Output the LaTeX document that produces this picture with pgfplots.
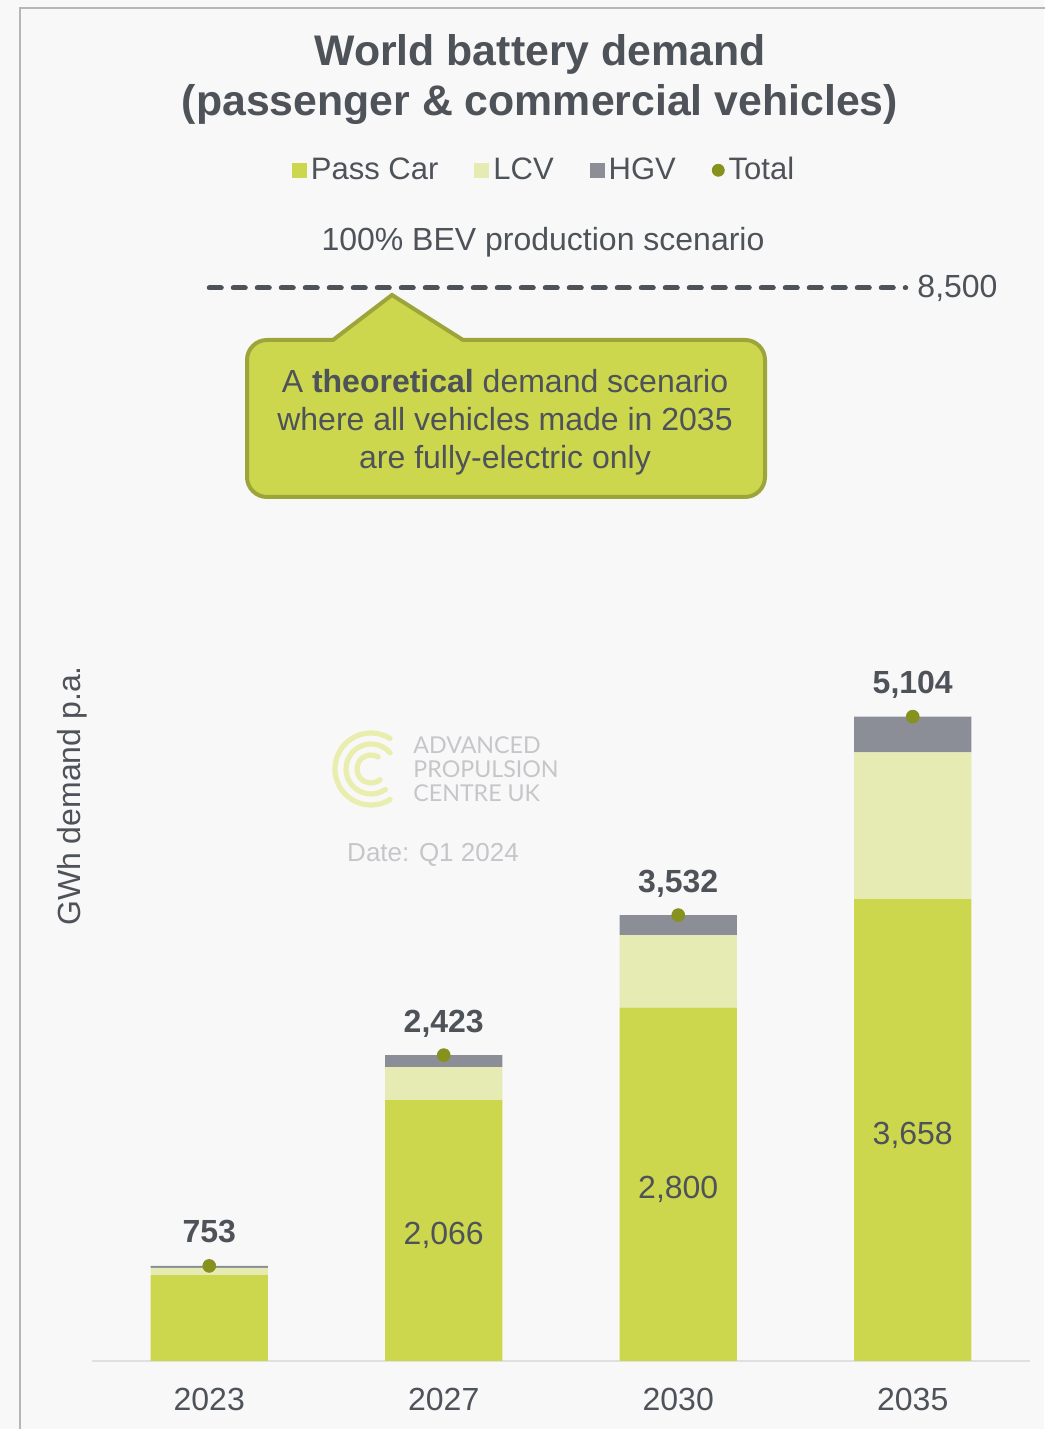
\documentclass[border=0pt]{standalone}
\usepackage{fontspec}
\setmainfont{Liberation Sans}
\newfontfamily\logofont{Lato}
\usepackage{pgfplots}
\pgfplotsset{compat=1.18}

\definecolor{passc}{HTML}{CDD74D}
\definecolor{lcvc}{HTML}{E6EBB4}
\definecolor{hgvc}{HTML}{8B8E96}
\definecolor{totc}{HTML}{86911E}
\definecolor{txt}{HTML}{4E5259}
\definecolor{bg}{HTML}{F8F8F8}
\definecolor{framec}{HTML}{B6B6BA}
\definecolor{callb}{HTML}{9DA53A}
\definecolor{wm}{HTML}{C6C6CA}
\definecolor{logoc}{HTML}{E9EEAE}
\definecolor{axl}{HTML}{E0E0E0}

\newcommand{\fs}[1]{\fontsize{#1}{1.2\dimexpr#1pt\relax}\selectfont}

\begin{document}
\begin{tikzpicture}
\path[use as bounding box] (0,0) rectangle (522pt,714.5pt);
\fill[bg] (0,0) rectangle (522pt,714.5pt);
% pixel coordinates of the reference, y downwards
\begin{scope}[x=0.5pt,y=-0.5pt,shift={(0pt,714.5pt)}]
  \draw[framec, line width=1.1pt] (20,1440) -- (20,8) -- (1050,8);
  \node[text=txt, align=center, font=\fontsize{21.4}{25}\selectfont\bfseries, inner sep=0pt]
    at (540,80) {World battery demand\\(passenger \& commercial vehicles)};
  \node[text=txt, font=\fs{16}] at (543,242) {100\% BEV production scenario};
  \node[text=txt, font=\fs{16}, rotate=90] at (72,796) {GWh demand p.a.};
  % watermark
  \begin{scope}[logoc, line width=2.6pt, line cap=round]
    \draw ([shift={(58:36)}]371,769) arc[start angle=58, end angle=302, radius=36];
    \draw ([shift={(55:25)}]371,769) arc[start angle=55, end angle=320, radius=25];
    \draw ([shift={(50:14)}]371,769) arc[start angle=50, end angle=300, radius=14];
  \end{scope}
  \node[anchor=west, text=wm, font=\logofont\fs{11.6}, align=left, inner sep=0pt]
    at (413,769) {ADVANCED\\[-2pt]PROPULSION\\[-2pt]CENTRE UK};
  \node[text=wm, font=\fs{13}] at (433,855) {Date: Q1 2024};
\end{scope}

\begin{axis}[
  at={(46pt,34pt)}, anchor=south west,
  scale only axis, width=469pt, height=568.1pt,
  xmin=-0.5, xmax=3.5, ymin=0, ymax=9000,
  ybar stacked, bar width=0.5,
  axis x line*=bottom, axis y line=none,
  x axis line style={draw=axl, line width=1pt},
  xtick={0,1,2,3}, xticklabels={2023,2027,2030,2035},
  major tick length=0pt, ytick=\empty,
  xticklabel style={font=\fs{16}, text=txt, yshift=-10pt},
  clip=false,
  legend style={at={(0.483,1.048)}, anchor=center, draw=none, fill=none,
    legend columns=4, font=\fs{15.5}, text=txt,
    /tikz/every even column/.append style={column sep=16pt}},
  legend image code/.code={\fill[#1] (-2pt,-3.75pt) rectangle (5.5pt,3.75pt);},
]
% stacked nodes near coords land in the middle of the segment
\addplot[fill=passc, draw=none, nodes near coords, point meta=explicit symbolic,
  every node near coord/.append style={anchor=center, yshift=-2.5pt,
    font=\fs{16}, text=txt}]
  coordinates {(0,680)[] (1,2066)[2,066] (2,2800)[2,800] (3,3658)[3,658]};
\addplot[fill=lcvc, draw=none] coordinates {(0,58) (1,262) (2,574) (3,1163)};
\addplot[fill=hgvc, draw=none] coordinates {(0,15) (1,95) (2,158) (3,283)};
\addlegendimage{legend image code/.code={\fill[totc] (2pt,0pt) circle (3pt);}}
\legend{Pass Car, LCV, HGV, Total}
\end{axis}

\begin{axis}[
  at={(46pt,34pt)}, anchor=south west,
  scale only axis, width=469pt, height=568.1pt,
  xmin=-0.5, xmax=3.5, ymin=0, ymax=9000,
  hide axis, clip=false,
]
\addplot[txt, line width=2.5pt, dash pattern=on 6pt off 6pt, line cap=round]
  coordinates {(0,8500) (2.97,8500)};
\node[anchor=west, text=txt, font=\fs{16}] at (axis cs:2.99,8500) {8,500};
\addplot[only marks, mark=*, mark size=3.2pt, color=totc,
  nodes near coords, point meta=explicit symbolic,
  every node near coord/.append style={anchor=base, yshift=11.5pt,
    font=\fs{16}\bfseries, text=txt}]
  coordinates {(0,753)[753] (1,2423)[2,423] (2,3532)[3,532] (3,5104)[5,104]};
\end{axis}

\begin{scope}[x=0.5pt,y=-0.5pt,shift={(0pt,714.5pt)}]
  \draw[callb, fill=passc, line width=2pt, line join=miter]
    (333,340) -- (392,295) -- (463,340) [rounded corners=10pt] -- (765,340)
    -- (765,497) -- (247,497) -- (247,340) [sharp corners] -- cycle;
  \node[text=txt, align=center, font=\fontsize{16}{19}\selectfont, inner sep=0pt]
    at (505,422) {A \textbf{theoretical} demand scenario\\where all vehicles made in 2035\\are fully-electric only};
\end{scope}
\end{tikzpicture}
\end{document}
